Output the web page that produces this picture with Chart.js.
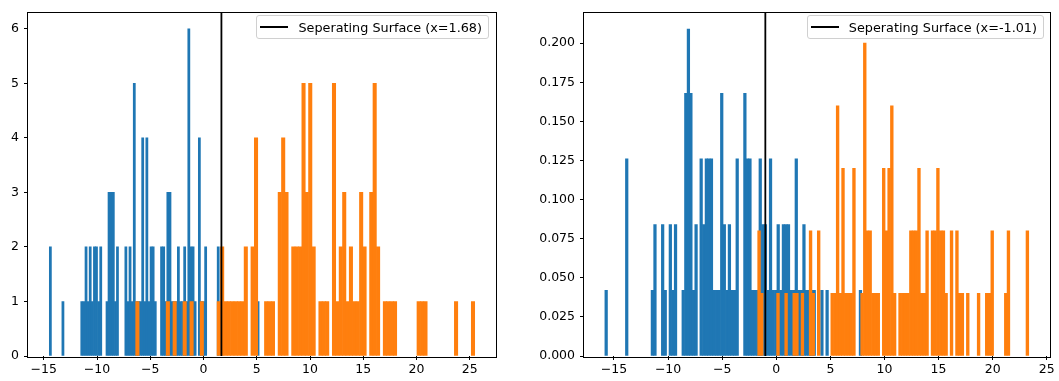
<!DOCTYPE html>
<html>
<head>
<meta charset="utf-8">
<script src="https://cdn.jsdelivr.net/npm/chart.js@4.4.0/dist/chart.umd.min.js"></script>
<style>
  body { margin: 0; background: #fff; width: 1059px; height: 381px; overflow: hidden; position: relative; font-family: "DejaVu Sans", sans-serif; }
  canvas { position: absolute; top: 0; }
  .legend { position: absolute; top: 15px; height: 22px; border: 1px solid #d0d0d0; border-radius: 3px;
            background: rgba(255,255,255,0.8); display: flex; align-items: center; font-size: 12.8px; color: #000;
            padding: 0 6px 0 3px; white-space: nowrap; }
  .legend .handle { display: inline-block; width: 28px; height: 0; border-top: 2px solid #000; margin-right: 10px; }
</style>
</head>
<body>
<canvas id="left" width="529" height="381" style="left:0"></canvas>
<canvas id="right" width="530" height="381" style="left:529px"></canvas>
<div class="legend" style="right:570px"><span class="handle"></span><span id="legLeft"></span></div>
<div class="legend" style="right:15px"><span class="handle"></span><span id="legRight"></span></div>
<script>
// left panel: counts
var leftBlueX = [-14.38,-13.20,-11.43,-11.23,-11.03,-10.84,-10.64,-10.44,-10.24,-10.05,-9.85,-9.65,-9.06,-8.87,-8.67,-8.47,-8.27,-8.08,-7.29,-7.09,-6.90,-6.70,-6.50,-6.30,-6.11,-5.91,-5.71,-5.52,-5.32,-5.12,-4.92,-4.73,-4.53,-3.94,-3.74,-3.55,-3.35,-3.15,-2.96,-2.76,-2.56,-2.36,-2.17,-1.97,-1.77,-1.57,-1.38,-1.18,-0.98,-0.79,-0.39,-0.20,0.00,0.20,1.38,5.12];
var leftBlueCount = [2,1,1,1,2,1,2,1,2,2,1,2,1,3,3,3,1,2,2,1,2,1,5,1,1,1,4,1,4,1,2,2,1,2,2,1,3,3,1,1,1,2,1,1,2,1,6,2,2,1,4,1,1,2,2,1];
var leftOrangeX = [-6.21,-3.35,-2.71,-1.77,-1.12,-0.16,1.43,1.75,2.07,2.38,2.70,3.02,3.34,3.66,3.97,4.61,4.93,5.88,6.20,6.52,7.16,7.48,7.79,8.43,8.75,9.07,9.39,9.70,10.02,10.34,10.98,11.30,11.61,12.25,12.57,12.89,13.21,13.52,13.84,14.16,14.48,14.80,15.12,15.75,16.07,16.39,17.03,17.34,17.66,17.98,20.20,20.52,20.84,23.71,25.30];
var leftOrangeCount = [1,1,1,1,1,1,1,2,1,1,1,1,1,1,2,2,4,1,1,1,3,4,3,2,2,2,5,3,5,2,1,1,1,5,1,2,3,1,2,1,1,3,2,3,5,2,1,1,1,1,1,1,1,1,1];
var leftSplit = 1.68;
var leftXTicks = [-15,-10,-5,0,5,10,15,20,25];
var leftYTicks = [0,1,2,3,4,5,6];

// right panel: density
var rightBlueX = [-15.72,-13.82,-11.45,-11.21,-10.50,-10.26,-9.79,-9.55,-9.31,-8.60,-8.36,-8.12,-7.89,-7.65,-7.41,-6.94,-6.70,-6.46,-6.23,-5.99,-5.75,-5.51,-5.28,-5.04,-4.80,-4.56,-4.33,-4.09,-3.85,-3.61,-2.90,-2.66,-2.43,-2.19,-1.95,-1.71,-1.48,-1.24,-1.00,-0.76,-0.53,-0.29,-0.05,0.18,0.42,0.66,0.90,1.13,1.37,1.61,1.85,2.08,2.32,2.56,2.80,3.03,3.27,3.51,4.22,4.70,7.78];
var rightBlueDensity = [0.042,0.126,0.042,0.084,0.084,0.042,0.084,0.042,0.084,0.042,0.168,0.209,0.168,0.042,0.084,0.126,0.084,0.126,0.126,0.126,0.042,0.042,0.042,0.168,0.084,0.042,0.084,0.042,0.042,0.126,0.168,0.126,0.126,0.042,0.042,0.042,0.126,0.084,0.084,0.042,0.126,0.042,0.042,0.084,0.042,0.084,0.084,0.084,0.042,0.042,0.126,0.042,0.042,0.084,0.042,0.042,0.042,0.042,0.042,0.042,0.042];
var rightOrangeX = [-1.59,-1.34,0.16,0.91,1.66,1.91,2.42,3.17,3.42,3.92,5.17,5.42,5.67,5.92,6.17,6.42,6.68,6.93,7.18,7.93,8.18,8.43,8.68,8.93,9.18,9.43,9.93,10.18,10.43,10.68,10.94,11.44,11.69,11.94,12.19,12.44,12.69,12.94,13.19,13.44,13.69,13.94,14.44,14.69,14.94,15.20,15.45,15.70,16.20,16.70,16.95,17.20,17.70,18.70,19.45,19.70,19.96,21.21,21.46,23.21];
var rightOrangeDensity = [0.080,0.040,0.040,0.040,0.040,0.040,0.040,0.080,0.040,0.080,0.040,0.040,0.160,0.040,0.120,0.040,0.040,0.040,0.120,0.040,0.200,0.080,0.080,0.040,0.040,0.040,0.120,0.080,0.120,0.160,0.040,0.040,0.040,0.040,0.040,0.080,0.080,0.080,0.120,0.040,0.040,0.080,0.080,0.080,0.120,0.080,0.080,0.040,0.080,0.080,0.040,0.040,0.040,0.040,0.040,0.040,0.080,0.040,0.080,0.080];
var rightSplit = -1.01;
var rightXTicks = [-15,-10,-5,0,5,10,15,20,25];
var rightYTicks = [0,0.025,0.05,0.075,0.1,0.125,0.15,0.175,0.2];

var legendLabel = 'Seperating Surface (x=';
document.getElementById('legLeft').textContent = legendLabel + leftSplit + ')';
document.getElementById('legRight').textContent = legendLabel + rightSplit + ')';

Chart.defaults.font.family = 'DejaVu Sans';
Chart.defaults.font.size = 12.5;
Chart.defaults.color = '#000';

// matplotlib style box round the axes
var frame = {
    id: 'frame',
    afterDraw: function(chart) {
        var a = chart.chartArea, ctx = chart.ctx;
        ctx.save();
        ctx.strokeStyle = '#000';
        ctx.lineWidth = 1;
        ctx.strokeRect(Math.round(a.left) - 0.5, Math.round(a.top) - 0.5,
                       Math.round(a.right - a.left) + 1, Math.round(a.bottom - a.top) + 1);
        ctx.restore();
    }
};

function pts(xs, ys) {
    return xs.map(function(x, i) { return {x: x, y: ys[i]}; });
}

function makeHist(id, o) {
    return new Chart(document.getElementById(id), {
        type: 'bar',
        data: {
            datasets: [
                {type: 'line', data: [{x: o.split, y: 0}, {x: o.split, y: o.ymax}], borderColor: '#000',
                 borderWidth: 1.8, pointRadius: 0, order: 0},
                {data: pts(o.orangeX, o.orangeY), backgroundColor: '#ff7f0e', barThickness: o.orangeW,
                 grouped: false, borderWidth: 0, order: 1},
                {data: pts(o.blueX, o.blueY), backgroundColor: '#1f77b4', barThickness: o.blueW,
                 grouped: false, borderWidth: 0, order: 2}
            ]
        },
        options: {
            responsive: false,
            animation: false,
            layout: {padding: o.padding},
            plugins: {legend: {display: false}, tooltip: {enabled: false}},
            scales: {
                x: {
                    type: 'linear', min: o.xmin, max: o.xmax, offset: false,
                    grid: {offset: false, drawOnChartArea: false, tickLength: 4, tickColor: '#000'},
                    border: {display: false},
                    afterBuildTicks: function(s) { s.ticks = o.xTicks.map(function(v) { return {value: v}; }); },
                    afterFit: function(s) { s.height = 25; },
                    ticks: {padding: 2, maxRotation: 0,
                            callback: function(v) { return String(v).replace('-', '\u2212'); }}
                },
                y: {
                    min: 0, max: o.ymax,
                    grid: {offset: false, drawOnChartArea: false, tickLength: 4, tickColor: '#000'},
                    border: {display: false},
                    afterBuildTicks: function(s) { s.ticks = o.yTicks.map(function(v) { return {value: v}; }); },
                    afterFit: function(s) { s.width = o.yWidth; },
                    ticks: {padding: 5, callback: o.yFormat}
                }
            }
        },
        plugins: [frame]
    });
}

makeHist('left', {
    blueX: leftBlueX, blueY: leftBlueCount, orangeX: leftOrangeX, orangeY: leftOrangeCount,
    split: leftSplit, xTicks: leftXTicks, yTicks: leftYTicks,
    xmin: -16.48, xmax: 27.46, ymax: 6.3, blueW: 2.1, orangeW: 3.39,
    yWidth: 28, padding: {top: 9, right: 33, bottom: 0, left: 0},
    yFormat: function(v) { return String(v); }
});

makeHist('right', {
    blueX: rightBlueX, blueY: rightBlueDensity, orangeX: rightOrangeX, orangeY: rightOrangeDensity,
    split: rightSplit, xTicks: rightXTicks, yTicks: rightYTicks,
    xmin: -17.77, xmax: 25.30, ymax: 0.2196, blueW: 2.57, orangeW: 2.71,
    yWidth: 55, padding: {top: 9, right: 9, bottom: 0, left: 0},
    yFormat: function(v) { return v.toFixed(3); }
});
</script>
</body>
</html>
